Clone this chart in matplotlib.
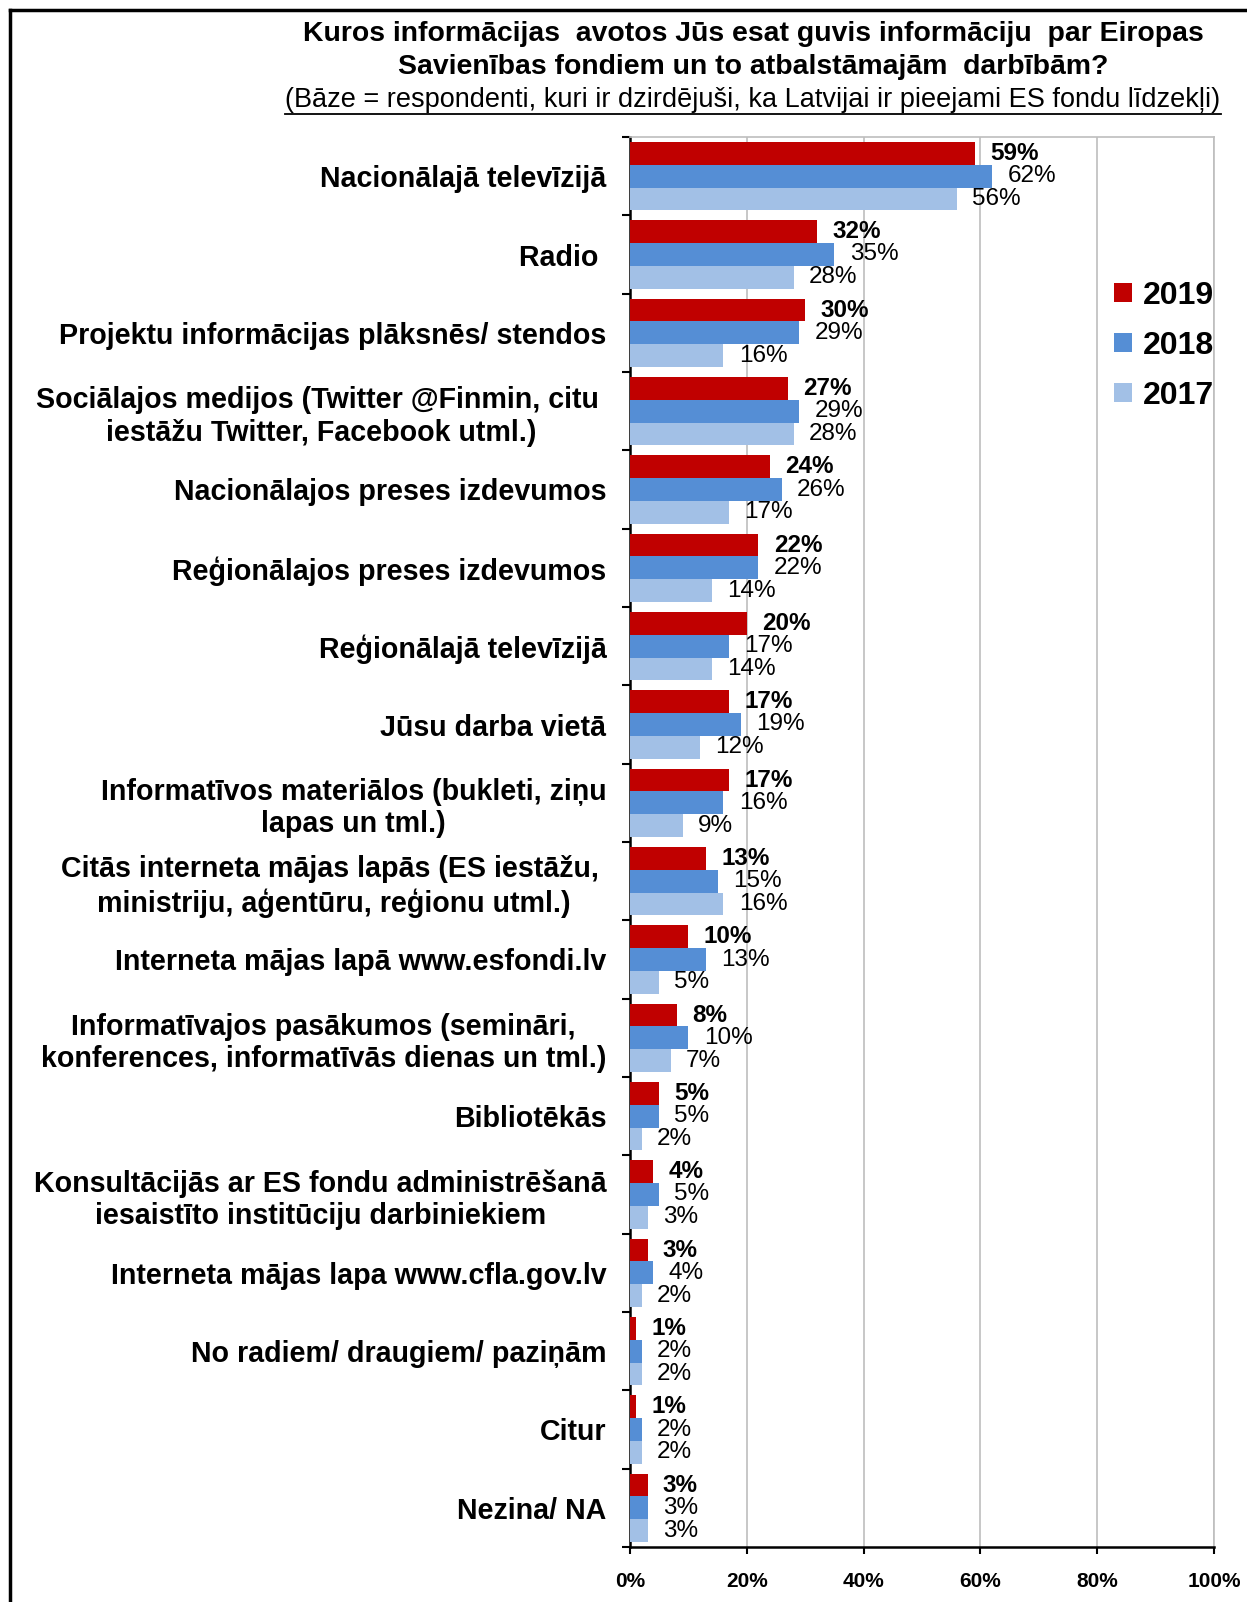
import matplotlib
matplotlib.use("Agg")
import matplotlib.pyplot as plt
import numpy as np
from matplotlib.patches import Patch
from matplotlib.lines import Line2D

plt.rcParams['font.family'] = ['Liberation Sans', 'DejaVu Sans']

categories = [
    "Nacionālajā televīzijā",
    "Radio ",
    "Projektu informācijas plāksnēs/ stendos",
    "Sociālajos medijos (Twitter @Finmin, citu \niestāžu Twitter, Facebook utml.)",
    "Nacionālajos preses izdevumos",
    "Reģionālajos preses izdevumos",
    "Reģionālajā televīzijā",
    "Jūsu darba vietā",
    "Informatīvos materiālos (bukleti, ziņu\nlapas un tml.)",
    "Citās interneta mājas lapās (ES iestāžu, \nministriju, aģentūru, reģionu utml.)",
    "Interneta mājas lapā www.esfondi.lv",
    "Informatīvajos pasākumos (semināri,\nkonferences, informatīvās dienas un tml.)",
    "Bibliotēkās",
    "Konsultācijās ar ES fondu administrēšanā\niesaistīto institūciju darbiniekiem",
    "Interneta mājas lapa www.cfla.gov.lv",
    "No radiem/ draugiem/ paziņām",
    "Citur",
    "Nezina/ NA",
]
v2019 = [59, 32, 30, 27, 24, 22, 20, 17, 17, 13, 10, 8, 5, 4, 3, 1, 1, 3]
v2018 = [62, 35, 29, 29, 26, 22, 17, 19, 16, 15, 13, 10, 5, 5, 4, 2, 2, 3]
v2017 = [56, 28, 16, 28, 17, 14, 14, 12, 9, 16, 5, 7, 2, 3, 2, 2, 2, 3]
years = ["2019", "2018", "2017"]
colors = ["#C00000", "#558ED5", "#A2C0E6"]

W, H = 1247, 1602
fig = plt.figure(figsize=(W / 100, H / 100), dpi=100)
ax = fig.add_axes([630 / W, 55 / H, 584 / W, 1410 / H])

y = np.arange(len(categories))
h = 0.29
series = [v2019, v2018, v2017]
for i, (vals, col) in enumerate(zip(series, colors)):
    pos = y + (i - 1) * h
    ax.barh(pos, vals, height=h, color=col, zorder=3)
    for p, v in zip(pos, vals):
        ax.annotate(f"{v}%", (v, p), xytext=(11, 0), textcoords="offset points",
                    ha="left", va="center", fontsize=17.5,
                    fontweight="bold" if i == 0 else "normal", zorder=4)

ax.set_xlim(0, 100)
ax.set_ylim(len(categories) - 0.5, -0.5)
ax.set_xticks(range(0, 101, 20))
ax.set_xticklabels([f"{t}%" for t in range(0, 101, 20)], fontsize=15, fontweight="bold")
ax.tick_params(axis="x", length=5, width=1.5, pad=13, direction="out")
ax.set_yticks(y)
ax.set_yticklabels(categories, fontsize=20.6, fontweight="bold", multialignment="center")
ax.tick_params(axis="y", which="major", length=0, pad=17)
ax.set_yticks(np.arange(-0.5, len(categories), 1), minor=True)
ax.tick_params(axis="y", which="minor", length=6, width=1.5, direction="out")

ax.grid(axis="x", color="#BEBEBE", lw=1.2, zorder=0)
for s in ["top", "right"]:
    ax.spines[s].set_color("#BEBEBE")
    ax.spines[s].set_linewidth(1.2)
for s in ["left", "bottom"]:
    ax.spines[s].set_color("black")
    ax.spines[s].set_linewidth(1.8)

handles = [Patch(facecolor=c, edgecolor="none") for c in colors]
ax.legend(handles, years, loc="upper left", bbox_to_anchor=(0.807, 0.907), frameon=False,
          prop={"size": 23, "weight": "bold"}, handlelength=0.55, handleheight=0.55,
          handletextpad=0.35, labelspacing=0.62, borderaxespad=0)

cx = 753 / W
fig.text(cx, 1 - 34 / H, "Kuros informācijas  avotos Jūs esat guvis informāciju  par Eiropas",
         ha="center", va="center", fontsize=20.4, fontweight="bold")
fig.text(cx, 1 - 67 / H, "Savienības fondiem un to atbalstāmajām  darbībām?",
         ha="center", va="center", fontsize=20.4, fontweight="bold")
sub = fig.text(cx, 1 - 100 / H,
               "(Bāze = respondenti, kuri ir dzirdējuši, ka Latvijai ir pieejami ES fondu līdzekļi)",
               ha="center", va="center", fontsize=19.5)

# underline the base note
fig.canvas.draw()
bb = sub.get_window_extent().transformed(fig.transFigure.inverted())
uy = 1 - 114 / H
fig.add_artist(Line2D([bb.x0, bb.x1], [uy, uy], color="black", lw=1.3, transform=fig.transFigure))

# frame edges
fig.add_artist(Line2D([10 / W, 10 / W], [0, 1 - 10 / H], color="black", lw=2.5, transform=fig.transFigure))
fig.add_artist(Line2D([10 / W, 1], [1 - 10 / H, 1 - 10 / H], color="black", lw=2.5, transform=fig.transFigure))

fig.savefig("out.png", dpi=100)
